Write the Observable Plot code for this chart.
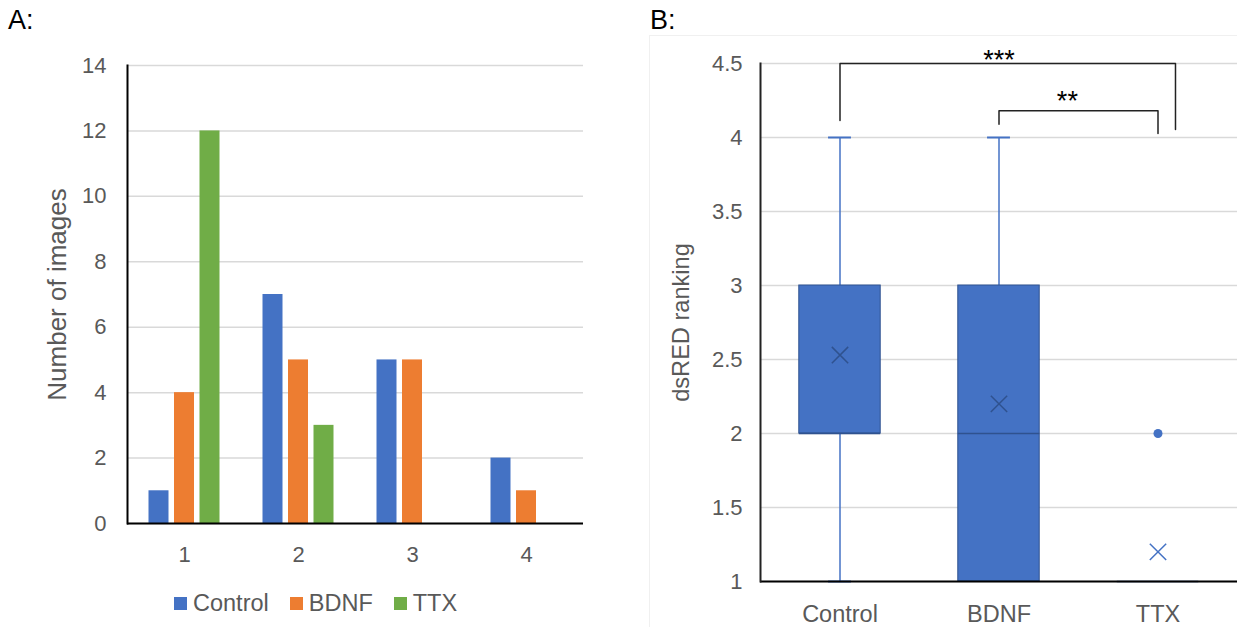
<!DOCTYPE html>
<html>
<head>
<meta charset="utf-8">
<script src="https://cdn.jsdelivr.net/npm/d3@7"></script>
<script src="https://cdn.jsdelivr.net/npm/@observablehq/plot@0.6"></script>
<style>
  body { margin: 0; background: #fff; }
  #root { position: relative; width: 1237px; height: 627px; overflow: hidden; background: #fff;
          font-family: "Liberation Sans", Arial, sans-serif; }
  .panel-label { position: absolute; font-size: 27px; line-height: 1; color: #000; }
  .chart { position: absolute; }
  #legendA { position: absolute; left: 174px; top: 590px; height: 27px; display: flex; align-items: center;
             gap: 21px; font-size: 23.5px; color: #595959; }
  #legendA .item { display: flex; align-items: center; gap: 6px; }
  #legendA .sw { width: 13px; height: 13px; display: inline-block; }
  #borderB { position: absolute; left: 649px; top: 35px; width: 600px; height: 600px;
             border-left: 1px solid #f0f0f0; border-top: 1px solid #f0f0f0; }
</style>
</head>
<body>
<div id="root">
  <div id="borderB"></div>
  <div class="panel-label" style="left:8px;top:7px;">A:</div>
  <div class="panel-label" style="left:650px;top:7px;">B:</div>
  <div id="chartA" class="chart" style="left:0px;top:0px;"></div>
  <div id="legendA"></div>
  <div id="chartB" class="chart" style="left:640px;top:0px;"></div>
</div>
<script>
// ---------- Panel A data ----------
const categoriesA = ["1", "2", "3", "4"];
const seriesNames = ["Control", "BDNF", "TTX"];
const seriesColors = ["#4472C4", "#ED7D31", "#70AD47"];
const controlCounts = [1, 7, 5, 2];
const bdnfCounts = [4, 5, 5, 1];
const ttxCounts = [12, 3, 0, 0];
const yTicksA = [0, 2, 4, 6, 8, 10, 12, 14];

// ---------- Panel B data ----------
const groupsB = ["Control", "BDNF", "TTX"];
const whiskerLowB = [1, 1, 1];
const q1B = [2, 1, 1];
const medianB = [2, 2, 1];
const q3B = [3, 3, 1];
const whiskerHighB = [4, 4, 1];
const meanB = [2.53, 2.2, 1.2];
const outlierGroupB = ["TTX"];
const outlierValueB = [2];
const yTicksB = [1, 1.5, 2, 2.5, 3, 3.5, 4, 4.5];

// significance brackets (x in group units 1..3, y in ranking units)
const bracketLabels = ["***", "**"];
const bracketLeft = [1, 2];
const bracketRight = [3.11, 3];
const bracketTop = [4.5, 4.18];
const bracketLeftEnd = [4.115, 4.09];
const bracketRightEnd = [4.054, 4.027];
const bracketLabelX = [2.0, 2.43];
const bracketLabelY = [4.593, 4.318];

const FONT = '"Liberation Sans", Arial, sans-serif';
const TICK = "#595959";
const GRID = "#d9d9d9";

// ---------- Panel A ----------
const seriesValues = [controlCounts, bdnfCounts, ttxCounts];
const barOffsets = [-25.5, 0, 25.5];
const barMarks = seriesNames.map((s, k) =>
  Plot.barY(
    categoriesA.map((c, i) => ({cat: c, value: seriesValues[k][i], series: s})),
    {x: "cat", y: "value", fill: seriesColors[k], insetLeft: 47, insetRight: 47, dx: barOffsets[k]}
  )
);

const chartA = Plot.plot({
  width: 600,
  height: 580,
  marginLeft: 127,
  marginRight: 17,
  marginTop: 65,
  marginBottom: 57,
  style: {fontFamily: FONT, color: TICK, background: "transparent"},
  x: {domain: categoriesA, padding: 0, label: null},
  y: {domain: [0, 14], label: null},
  marks: [
    Plot.gridY(yTicksA, {stroke: GRID, strokeOpacity: 1, strokeWidth: 1.5}),
    ...barMarks,
    Plot.ruleY([0], {stroke: "#000", strokeWidth: 2}),
    Plot.frame({anchor: "left", stroke: "#000", strokeWidth: 2}),
    Plot.axisY(yTicksA, {tickSize: 0, tickPadding: 21, fontSize: 22, label: null}),
    Plot.axisY([], {label: "Number of images", labelArrow: "none", labelAnchor: "center", labelOffset: 80, fontSize: 26, tickSize: 0}),
    Plot.axisX({tickSize: 0, tickPadding: 23, fontSize: 22, label: null})
  ]
});
document.getElementById("chartA").appendChild(chartA);

// legend A
const legendA = document.getElementById("legendA");
seriesNames.forEach((s, k) => {
  const item = document.createElement("div");
  item.className = "item";
  const sw = document.createElement("span");
  sw.className = "sw";
  sw.style.background = seriesColors[k];
  const tx = document.createElement("span");
  tx.textContent = s;
  item.appendChild(sw);
  item.appendChild(tx);
  legendA.appendChild(item);
});

// ---------- Panel B ----------
const boxData = groupsB.map((g, i) => ({
  group: g, pos: i + 1,
  lo: whiskerLowB[i], q1: q1B[i], med: medianB[i], q3: q3B[i], hi: whiskerHighB[i], mean: meanB[i]
}));
const capData = [];
boxData.forEach(d => {
  if (d.hi > d.q3) capData.push({pos: d.pos, y: d.hi});
  if (d.lo < d.q1) capData.push({pos: d.pos, y: d.lo});
});
const outlierData = outlierGroupB.map((g, i) => ({pos: groupsB.indexOf(g) + 1, y: outlierValueB[i]}));
const bracketPaths = bracketLabels.flatMap((lab, i) => [
  {b: i, x: bracketLeft[i], y: bracketLeftEnd[i]},
  {b: i, x: bracketLeft[i], y: bracketTop[i]},
  {b: i, x: bracketRight[i], y: bracketTop[i]},
  {b: i, x: bracketRight[i], y: bracketRightEnd[i]}
]);
const bracketText = bracketLabels.map((lab, i) => ({label: lab, x: bracketLabelX[i], y: bracketLabelY[i]}));

const BOX_HALF = 0.256;
const CAP_HALF = 0.072;
const BOX_FILL = "#4472C4";
const BOX_EDGE = "#2F528F";

const chartB = Plot.plot({
  width: 597,
  height: 627,
  marginLeft: 120,
  marginRight: 0,
  marginTop: 63,
  marginBottom: 46,
  style: {fontFamily: FONT, color: TICK, background: "transparent"},
  x: {type: "linear", domain: [0.5, 3.5], label: null},
  y: {domain: [1, 4.5], label: null},
  marks: [
    Plot.gridY(yTicksB, {stroke: GRID, strokeOpacity: 1, strokeWidth: 1.5}),
    Plot.ruleX(boxData, {x: "pos", y1: "lo", y2: "hi", stroke: BOX_FILL, strokeWidth: 1.5}),
    Plot.ruleY(capData, {y: "y", x1: d => d.pos - CAP_HALF, x2: d => d.pos + CAP_HALF, stroke: BOX_FILL, strokeWidth: 2}),
    Plot.rect(boxData.filter(d => d.q3 > d.q1), {
      x1: d => d.pos - BOX_HALF, x2: d => d.pos + BOX_HALF, y1: "q1", y2: "q3",
      fill: BOX_FILL, stroke: BOX_EDGE, strokeWidth: 1
    }),
    Plot.ruleY(boxData, {y: "med", x1: d => d.pos - BOX_HALF, x2: d => d.pos + BOX_HALF, stroke: BOX_EDGE, strokeWidth: 1.5}),
    Plot.dot(boxData, {
      x: "pos", y: "mean", symbol: "times", r: 7.5, strokeWidth: 1.5,
      stroke: d => (d.mean > d.q1 && d.mean < d.q3) ? "#2F528F" : "#4472C4"
    }),
    Plot.dot(outlierData, {x: "pos", y: "y", r: 4.5, fill: BOX_FILL, stroke: null}),
    Plot.ruleY([1], {stroke: "#000", strokeWidth: 2}),
    Plot.frame({anchor: "left", stroke: "#222", strokeWidth: 2}),
    Plot.line(bracketPaths, {x: "x", y: "y", z: "b", stroke: "#222", strokeWidth: 1.5}),
    Plot.text(bracketText, {x: "x", y: "y", text: "label", fontSize: 27, fill: "#000", lineAnchor: "top"}),
    Plot.axisY(yTicksB, {tickSize: 0, tickPadding: 18, fontSize: 22, label: null, tickFormat: d => String(d)}),
    Plot.axisY([], {label: "dsRED ranking", labelArrow: "none", labelAnchor: "center", labelOffset: 88, fontSize: 23.6, tickSize: 0}),
    Plot.axisX([1, 2, 3], {tickSize: 0, tickPadding: 24, fontSize: 23.5, tickFormat: v => groupsB[v - 1], label: null})
  ]
});
document.getElementById("chartB").appendChild(chartB);
</script>
</body>
</html>
